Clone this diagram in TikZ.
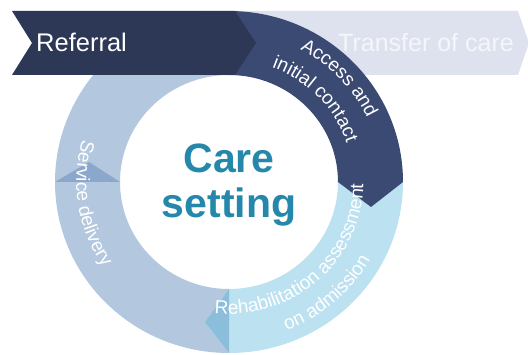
\documentclass[tikz,border=0pt]{standalone}
\usepackage{fontspec}
\setmainfont{Liberation Sans}
\usetikzlibrary{calc,decorations.text}
\definecolor{referralnavy}{HTML}{2D3756}
\definecolor{accessnavy}{HTML}{3A4A72}
\definecolor{transferlav}{HTML}{DEE2EE}
\definecolor{transfertext}{HTML}{F5F6FA}
\definecolor{steel}{HTML}{B3C8DF}
\definecolor{steeldeep}{HTML}{8BA8CC}
\definecolor{skyblue}{HTML}{BCE1F0}
\definecolor{skydeep}{HTML}{8BBEDB}
\definecolor{careteal}{HTML}{2588AA}
\begin{document}
\begin{tikzpicture}[x=1pt,y=1pt,
  bannerlabel/.style={anchor=base, inner sep=0pt, font=\fontsize{25.5}{25.5}\selectfont},
  carelabel/.style={anchor=base, inner sep=0pt, text=careteal, font=\fontsize{41}{41}\selectfont\bfseries},
  ringtext/.style={decorate, decoration={text along path, text align=center, text color=white,
      text={|\fontsize{19}{19}\selectfont|#1}}},
  outerarc/.style={x radius=174, y radius=171},
  innerarc/.style={x radius=109, y radius=107},
]
\useasboundingbox (0,0) rectangle (528,354);
\coordinate (C) at (229,172);

% Transfer of care banner (behind the ring)
\fill[transferlav] (200,343) -- (518,343) -- (529,311) -- (518,279) -- (200,279) -- cycle;
\node[bannerlabel, text=transfertext, font=\fontsize{25}{25}\selectfont] (transfer) at (426,302) {Transfer of care};

% upper-left quarter
\fill[steel] ($(C)+(180:174 and 171)$) arc[start angle=180, end angle=90, outerarc]
  -- ($(C)+(90:109 and 107)$) arc[start angle=90, end angle=180, innerarc] -- cycle;

% service delivery: bottom-left quarter, tip pointing up
\coordinate (servicetip) at (89,192);
\fill[steel] ($(C)+(270:174 and 171)$) arc[start angle=270, end angle=180, outerarc]
  -- (servicetip) -- ($(C)+(180:109 and 107)$)
  arc[start angle=180, end angle=270, innerarc] -- cycle;
\fill[steeldeep] ($(C)+(180:174 and 171)$) -- (servicetip) -- ($(C)+(180:109 and 107)$) -- cycle;

% rehabilitation assessment: bottom-right quarter, tip pointing left
\coordinate (rehabtip) at (205,32);
\fill[skyblue] ($(C)+(0:174 and 171)$) arc[start angle=0, end angle=-90, outerarc]
  -- (rehabtip) -- ($(C)+(-90:109 and 107)$)
  arc[start angle=-90, end angle=0, innerarc] -- cycle;
\fill[skydeep] ($(C)+(-90:174 and 171)$) -- (rehabtip) -- ($(C)+(-90:109 and 107)$) -- cycle;

% access and initial contact: top-right quarter, tip pointing down
\coordinate (accesstip) at (371,147);
\fill[accessnavy] ($(C)+(90:174 and 171)$) arc[start angle=90, end angle=0, outerarc]
  -- (accesstip) -- ($(C)+(0:109 and 107)$)
  arc[start angle=0, end angle=90, innerarc] -- cycle;

% Referral chevron
\fill[referralnavy] (12,343) -- (235,343) -- (256,311) -- (235,279) -- (12,279) -- (32,311) -- cycle;
\node[bannerlabel, anchor=base west, text=white] (referral) at (36,302) {Referral};

% labels along the ring
\path[ringtext={Access and}] ($(C)+(90:152.7 and 150)$)
  arc[start angle=90, end angle=-3, x radius=152.7, y radius=150];
\path[ringtext={initial contact}] ($(C)+(94:124.2 and 122)$)
  arc[start angle=94, end angle=-6, x radius=124.2, y radius=122];
\path[ringtext={Rehabilitation assessment}] ($(C)+(251.5:134.4 and 132)$)
  arc[start angle=251.5, end angle=371.5, x radius=134.4, y radius=132];
\path[ringtext={on admission}] ($(C)+(261:161.9 and 159)$)
  arc[start angle=261, end angle=361, x radius=161.9, y radius=159];
\path[ringtext={Service delivery}] ($(C)+(129:152.7 and 150)$)
  arc[start angle=129, end angle=249, x radius=152.7, y radius=150];

% centre title
\node[carelabel] (care) at (229,181) {Care};
\node[carelabel] (setting) at (229,136) {setting};
\end{tikzpicture}
\end{document}
